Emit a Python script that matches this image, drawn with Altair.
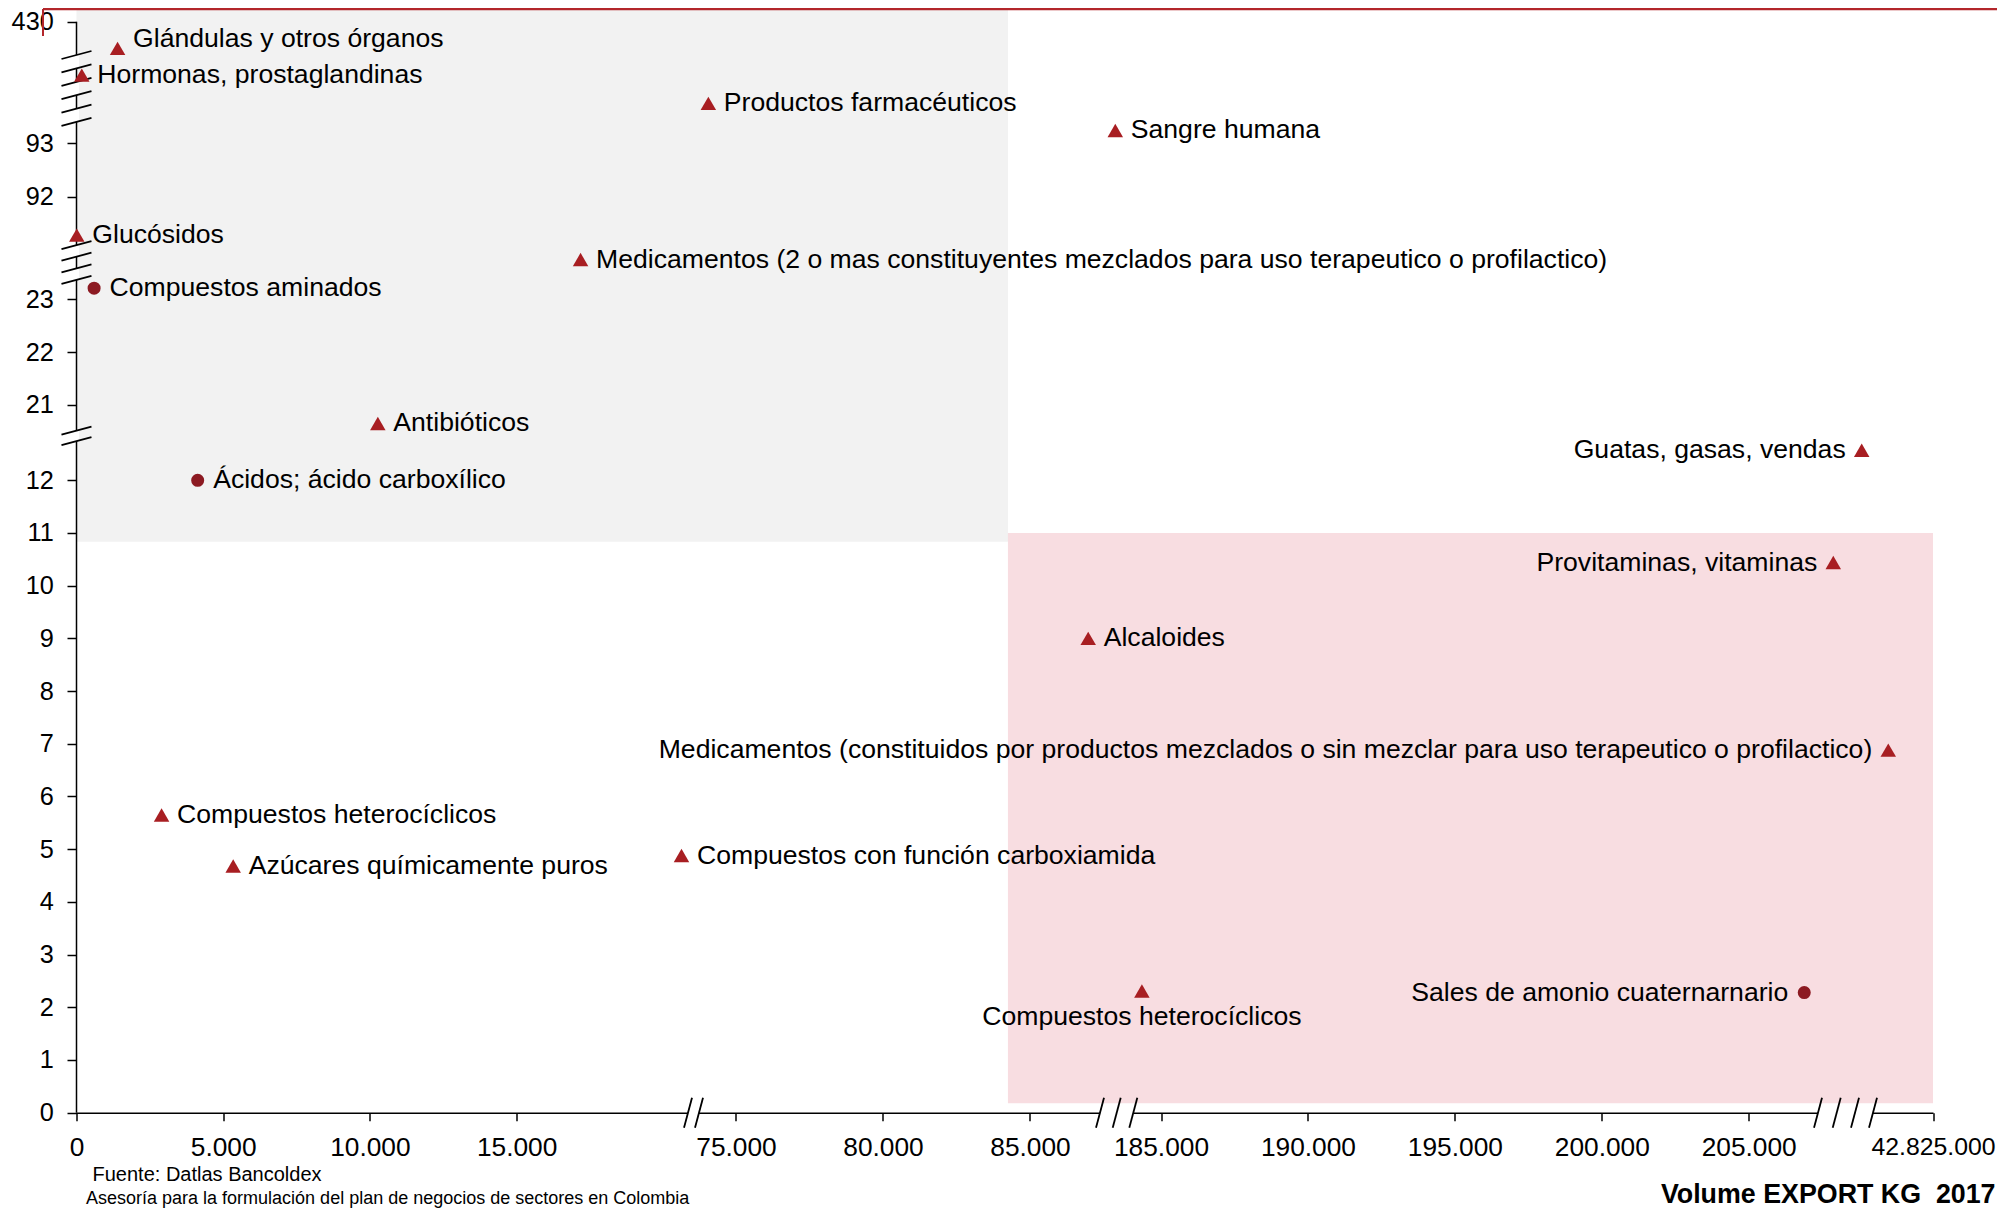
import altair as alt
import pandas as pd

# ---------------- data ----------------
NAMES = [
    "Glándulas y otros órganos",
    "Hormonas, prostaglandinas",
    "Productos farmacéuticos",
    "Sangre humana",
    "Glucósidos",
    "Medicamentos (2 o mas constituyentes mezclados para uso terapeutico o profilactico)",
    "Compuestos aminados",
    "Antibióticos",
    "Ácidos; ácido carboxílico",
    "Guatas, gasas, vendas",
    "Provitaminas, vitaminas",
    "Alcaloides",
    "Medicamentos (constituidos por productos mezclados o sin mezclar para uso terapeutico o profilactico)",
    "Compuestos heterocíclicos",
    "Azúcares químicamente puros",
    "Compuestos con función carboxiamida",
    "Compuestos heterocíclicos",
    "Sales de amonio cuaternarnario",
]
VOLUME_KG = [1400, 180, 74060, 133000, 10, 17180, 600, 10270, 4130,
             18360000, 8610000, 86980, 27480000, 2900, 5340, 20620, 184350, 206890]
Y_VALUE = [346, 262, 173, 93.24, 91.28, 61.5, 23.21, 20.65, 12.0,
           12.57, 10.44, 9.0, 6.88, 5.65, 4.68, 4.88, 2.31, 2.28]
CIRCLE_ITEMS = [6, 8, 17]
LABEL_LEFT = [9, 10, 12, 17]
LABEL_BELOW = [16]
LABEL_RAISED = [0]

X_TICKS = [0, 5000, 10000, 15000, 75000, 80000, 85000, 185000, 190000,
           195000, 200000, 205000, 42825000]
Y_TICKS = list(range(0, 13)) + [21, 22, 23, 92, 93, 430]

# broken axes: data breakpoints -> pixel breakpoints (piecewise scale)
X_BREAKS = [0, 20654, 73929, 87099, 184343, 207045, 42825000]
X_PIXELS = [0, 606, 628, 1015.2, 1065.2, 1732.3, 1856.5]
Y_BREAKS = [0, 12.645, 20.611, 23.256, 91.204, 93.273, 430, 466.8]
Y_PIXELS = [1102.7, 436.3, 415.5, 275.8, 229.2, 118.7, 11.7, 0]

X_BREAK_MARKS = [33973, 60610, 103240, 135721, 168006, 3365000, 9779000, 16061000, 22237000]
X_GAP_FROM = [33973, 103240, 3365000]
X_GAP_TO = [60610, 168006, 22237000]
Y_BREAK_MARKS = [14.64, 18.62, 31.75, 48.74, 65.72, 82.71, 114.4, 156.5, 198.7, 240.9, 283.0, 325.2]
Y_GAP_FROM = [14.64, 31.75, 65.72, 114.4, 198.7, 283.0]
Y_GAP_TO = [18.62, 48.74, 82.71, 156.5, 240.9, 325.2]

REGION_NAMES = ["gris", "rosa"]
REGION_X0 = [0, 84250]
REGION_X1 = [84250, 42825000]
REGION_Y0 = [10.835, 0.178]
REGION_Y1 = [466.8, 11.0]

SOURCE = "Fuente: Datlas Bancoldex"
SUBTITLE = "Asesoría para la formulación del plan de negocios de sectores en Colombia"
X_TITLE = "Volume EXPORT KG\u00a0 2017"

# ---------------- tables ----------------
W, H = 1856.5, 1102.7
FONT = "Liberation Sans"
LABEL_SIZE = 26.6

ids = list(range(len(NAMES)))
df = pd.DataFrame({"id": ids, "name": NAMES, "vol": VOLUME_KG, "val": Y_VALUE})
df["shape"] = ["circle" if i in CIRCLE_ITEMS else "triangle" for i in ids]
df["place"] = ["left" if i in LABEL_LEFT else "below" if i in LABEL_BELOW
               else "raised" if i in LABEL_RAISED else "right" for i in ids]

regions = pd.DataFrame({"region": REGION_NAMES, "x0": REGION_X0, "x1": REGION_X1,
                        "y0": REGION_Y0, "y1": REGION_Y1})
yaxis_df = pd.DataFrame({"lo": [Y_TICKS[0]], "hi": [Y_TICKS[-1]]})
xb = pd.DataFrame({"v": X_BREAK_MARKS})
yb = pd.DataFrame({"v": Y_BREAK_MARKS})
xg = pd.DataFrame({"a": X_GAP_FROM, "b": X_GAP_TO})
yg = pd.DataFrame({"a": Y_GAP_FROM, "b": Y_GAP_TO})

xscale = alt.Scale(domain=X_BREAKS, range=X_PIXELS, nice=False, zero=False)
yscale = alt.Scale(domain=Y_BREAKS, range=Y_PIXELS, nice=False, zero=False)

xaxis = alt.Axis(values=X_TICKS, title="", grid=False, tickSize=8, tickWidth=1.5,
                 domainWidth=1.5, domainColor="black", tickColor="black",
                 labelExpr="replace(format(datum.value, ',d'), regexp(',', 'g'), '.')",
                 labelFlush=False, labelOverlap=False,
                 labelFontSize={"condition": {"test": "datum.value > 1000000", "value": 24.8},
                                "value": 26.3},
                 labelFont=FONT, labelColor="black", labelPadding=27,
                 labelBaseline="middle")
yaxis = alt.Axis(values=Y_TICKS, title="", grid=False, domain=False, tickSize=9.5,
                 tickWidth=1.5, tickColor="black", labelOverlap=False,
                 labelFontSize=25.3, labelFont=FONT, labelColor="black",
                 labelPadding=13.7)


def X(f):
    return alt.X(f, type="quantitative", scale=xscale, axis=xaxis)


def Y(f):
    return alt.Y(f, type="quantitative", scale=yscale, axis=yaxis)


X0 = alt.XDatum(0, type="quantitative", scale=xscale, axis=xaxis)
Y0 = alt.YDatum(0, type="quantitative", scale=yscale, axis=yaxis)

rects = alt.Chart(regions).mark_rect().encode(
    x=X("x0"), x2="x1", y=Y("y0"), y2="y1",
    color=alt.Color("region:N", scale=alt.Scale(domain=REGION_NAMES,
                    range=["#f2f2f2", "#f8dde1"]), legend=None))

yline = alt.Chart(yaxis_df).mark_rule(color="black", strokeWidth=1.5).encode(
    x=X0, y=Y("lo"), y2="hi")

ygap = alt.Chart(yg).mark_rule(color="white", strokeWidth=5).encode(
    x=X0, y=Y("a"), y2="b")
xgap = alt.Chart(xg).mark_rule(color="white", strokeWidth=5).encode(
    x=X("a"), x2="b", y=Y0)

yslash = alt.Chart(yb).mark_rule(color="black", strokeWidth=1.8, xOffset=-15,
                                 x2Offset=15, yOffset=4, y2Offset=-4).encode(
    x=X0, x2=alt.datum(0), y=Y("v"), y2="v")
xslash = alt.Chart(xb).mark_rule(color="black", strokeWidth=1.8, xOffset=-4,
                                 x2Offset=4, yOffset=15, y2Offset=-15).encode(
    x=X("v"), x2="v", y=Y0, y2=alt.datum(0))

tri = alt.Chart(df).transform_filter(alt.datum.shape == "triangle").mark_point(
    shape="triangle-up", filled=True, size=240, color="#a81e22", opacity=1).encode(
    x=X("vol"), y=Y("val"))
circ = alt.Chart(df).transform_filter(alt.datum.shape == "circle").mark_point(
    shape="circle", filled=True, size=170, color="#8c1a22", opacity=1).encode(
    x=X("vol"), y=Y("val"))


def labels(place, **kw):
    return alt.Chart(df).transform_filter(alt.datum.place == place).mark_text(
        font=FONT, fontSize=LABEL_SIZE, color="black", **kw).encode(
        x=X("vol"), y=Y("val"), text="name:N")


lab_right = labels("right", align="left", baseline="middle", dx=15.5)
lab_raised = labels("raised", align="left", baseline="middle", dx=15.5, dy=-9)
lab_left = labels("left", align="right", baseline="middle", dx=-16)
lab_below = labels("below", align="center", baseline="middle", dy=25.6)

src = alt.Chart(pd.DataFrame({"t": [SOURCE]})).mark_text(
    font=FONT, fontSize=20, color="black", align="left", baseline="middle").encode(
    x=alt.value(16), y=alt.value(1165), text="t:N")
sub = alt.Chart(pd.DataFrame({"t": [SUBTITLE]})).mark_text(
    font=FONT, fontSize=18, color="black", align="left", baseline="alphabetic").encode(
    x=alt.value(9.5), y=alt.value(1193.5), text="t:N")
xt = alt.Chart(pd.DataFrame({"t": [X_TITLE]})).mark_text(
    font=FONT, fontSize=26.8, fontWeight="bold", color="black", align="right",
    baseline="middle").encode(x=alt.value(1919), y=alt.value(1184.5), text="t:N")

redline = alt.Chart(pd.DataFrame({"k": [0]})).mark_rule(
    color="#b3262b", strokeWidth=2.2).encode(
    x=alt.value(-33.5), x2=alt.value(1920.5), y=alt.value(-0.9))
redtick = alt.Chart(pd.DataFrame({"k": [0]})).mark_rule(
    color="#b3262b", strokeWidth=2).encode(
    x=alt.value(-33.5), y=alt.value(-1), y2=alt.value(26))

chart = alt.layer(
    rects, yline, xgap, ygap, yslash, xslash, tri, circ,
    lab_right, lab_raised, lab_left, lab_below, src, sub, xt, redline, redtick
).properties(
    width=W, height=H,
    padding={"left": 68.5, "top": 2, "right": 64, "bottom": 95.3},
    autosize=alt.AutoSizeParams(type="none"),
).configure(font=FONT).configure_view(strokeWidth=0, stroke="transparent")

chart.save("out.html", embed_options={"renderer": "svg", "actions": False})
